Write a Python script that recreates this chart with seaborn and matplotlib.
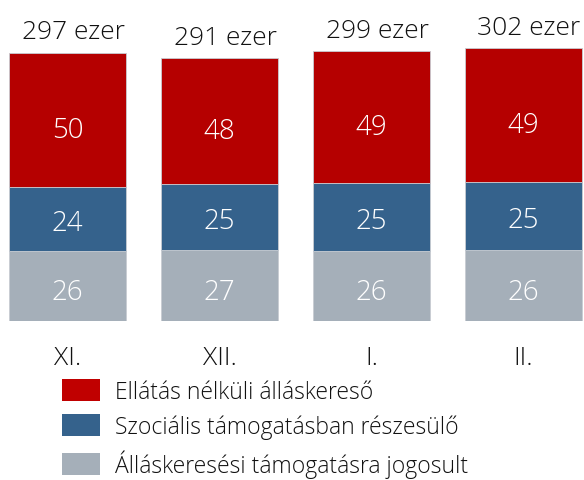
import matplotlib
matplotlib.use("Agg")
import matplotlib.pyplot as plt
import seaborn as sns
import pandas as pd
from matplotlib.patches import Patch

months = ["XI.", "XII.", "I.", "II."]
totals = [297, 291, 299, 302]
ellatas = [50, 48, 49, 49]          # Ellátás nélküli álláskereső (%)
szocialis = [24, 25, 25, 25]        # Szociális támogatásban részesülő (%)
jogosult = [26, 27, 26, 26]         # Álláskeresési támogatásra jogosult (%)
series_names = ["Ellátás nélküli álláskereső",
                "Szociális támogatásban részesülő",
                "Álláskeresési támogatásra jogosult"]

sns.set_theme(style="white")
plt.rcParams['font.family'] = ['Open Sans', 'DejaVu Sans']

RED = "#B50000"
BLUE = "#35628C"
GRAY = "#A5AFB9"
LEG_RED = "#C00000"

fig = plt.figure(figsize=(5.84, 4.81), dpi=100)
ax = fig.add_axes([0, (481 - 322) / 481, 1, 322 / 481])

df = pd.DataFrame({"month": months, "total": totals,
                   "ell": ellatas, "szoc": szocialis, "jog": jogosult})
df["v_jog"] = df["jog"] * df["total"] / 100
df["v_szoc"] = df["szoc"] * df["total"] / 100
df["v_ell"] = df["ell"] * df["total"] / 100

zeros = pd.Series([0.0] * len(df))
layers = [("v_jog", "jog", GRAY, zeros, -4.5),
          ("v_szoc", "szoc", BLUE, df["v_jog"], -3),
          ("v_ell", "ell", RED, df["v_jog"] + df["v_szoc"], -7)]
for col, pcol, color, bottom, dy in layers:
    sns.barplot(data=df, x="month", y=col, color=color, width=0.77,
                bottom=bottom, ax=ax, saturation=1, edgecolor="#c8ccd2",
                linewidth=0.6)
    for i, (v, p, b) in enumerate(zip(df[col], df[pcol], bottom)):
        ax.annotate(f"{p}", (i, b + v / 2), xytext=(0, dy),
                    textcoords="offset points", ha="center", va="center",
                    color="white", fontsize=20, fontweight="light")

for i, t in enumerate(totals):
    ax.annotate(f"{t} ezer", (i, t), xytext=(4, 6), textcoords="offset points",
                ha="center", va="bottom", fontsize=19, fontweight="light",
                color="#111111")

ax.set_xlim((0 - 67.5) / 152, (584 - 67.5) / 152)
ax.set_ylim(0, 322 / 0.903)
ax.set_xlabel("")
ax.set_ylabel("")
ax.set_yticks([])
ax.tick_params(axis="x", length=0, pad=17, labelsize=19, labelcolor="#111111")
for lab in ax.get_xticklabels():
    lab.set_fontweight("light")
for s in ax.spines.values():
    s.set_visible(False)
ax.patch.set_alpha(0)

handles = [Patch(facecolor=LEG_RED, edgecolor="none"),
           Patch(facecolor=BLUE, edgecolor="none"),
           Patch(facecolor=GRAY, edgecolor="none")]
leg = fig.legend(handles, series_names, loc="upper left",
                 bbox_to_anchor=(62 / 584, 1 - 380 / 481), frameon=False,
                 borderpad=0, borderaxespad=0, fontsize=16.5,
                 handlelength=1.65, handleheight=1.1, handletextpad=0.65,
                 labelspacing=0.45)
for t in leg.get_texts():
    t.set_fontweight("light")
    t.set_color("#111111")

fig.savefig("out.png", dpi=100)
